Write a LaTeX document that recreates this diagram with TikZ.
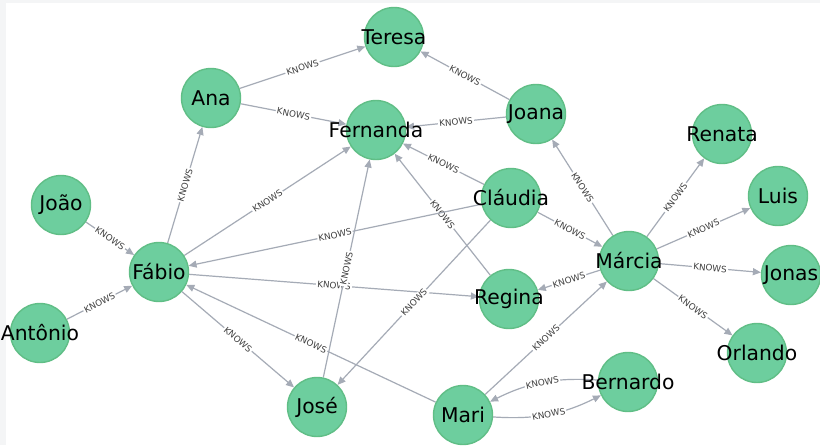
\documentclass[tikz,border=0pt]{standalone}
\usepackage{fontspec}
\setmainfont{DejaVu Sans}
\usetikzlibrary{arrows.meta}
\definecolor{nodefill}{HTML}{6DCE9E}
\definecolor{nodeline}{HTML}{60BE86}
\definecolor{relline}{HTML}{A5ABB6}
\definecolor{framegray}{HTML}{F4F5F6}
\pgfdeclarelayer{bg}
\pgfdeclarelayer{edges}
\pgfsetlayers{bg,edges,main}
\tikzset{
  person/.style={circle, minimum size=59pt, inner sep=0pt, fill=nodefill,
    draw=nodeline, line width=1.4pt, font=\fontsize{20.3}{24}\selectfont, text=black},
  rel/.style={draw=relline, line width=1.2pt,
    -{Triangle[length=8pt,width=7pt]}},
  lbl/.style={midway, sloped, fill=white, inner sep=1.2pt, text=black!75,
    font=\fontsize{8.8}{9}\selectfont}
}
\newcommand{\pname}[1]{\makebox[0pt][c]{#1}}
\begin{document}
\begin{tikzpicture}[x=1pt, y=-1pt]
\begin{pgfonlayer}{bg}
  \fill[framegray] (0,0) rectangle (820,445);
  \fill[white] (6,3) rectangle (820,445);
\end{pgfonlayer}
\useasboundingbox (0,0) rectangle (820,445);

% people
\node[person] (teresa)   at (394,37)  {\pname{Teresa}};
\node[person] (ana)      at (211,98)  {\pname{Ana}};
\node[person] (fernanda) at (376,130) {\pname{Fernanda}};
\node[person] (joana)    at (536,114) {\pname{Joana}};
\node[person] (renata)   at (722,134) {\pname{Renata}};
\node[person] (joao)     at (61,205)  {\pname{João}};
\node[person] (fabio)    at (159,272) {\pname{Fábio}};
\node[person] (claudia)  at (511,198) {\pname{Cláudia}};
\node[person] (marcia)   at (629,261) {\pname{Márcia}};
\node[person] (luis)     at (778,196) {\pname{Luis}};
\node[person] (jonas)    at (791,275) {\pname{Jonas}};
\node[person] (regina)   at (509,299) {\pname{Regina}};
\node[person] (antonio)  at (40,333)  {\pname{Antônio}};
\node[person] (jose)     at (317,407) {\pname{José}};
\node[person] (mari)     at (463,415) {\pname{Mari}};
\node[person] (bernardo) at (628,382) {\pname{Bernardo}};
\node[person] (orlando)  at (757,353) {\pname{Orlando}};

% KNOWS relationships
\begin{pgfonlayer}{edges}
\draw[rel] (ana) -- node[lbl]{KNOWS} (teresa);
\draw[rel] (ana) -- node[lbl]{KNOWS} (fernanda);
\draw[rel] (joana) -- node[lbl]{KNOWS} (teresa);
\draw[rel] (joana) -- node[lbl]{KNOWS} (fernanda);
\draw[rel] (marcia) -- node[lbl]{KNOWS} (joana);
\draw[rel] (claudia) -- node[lbl]{KNOWS} (fernanda);
\draw[rel] (regina) -- node[lbl]{KNOWS} (fernanda);
\draw[rel] (fabio) -- node[lbl]{KNOWS} (fernanda);
\draw[rel] (fabio) -- node[lbl]{KNOWS} (ana);
\draw[rel] (joao) -- node[lbl]{KNOWS} (fabio);
\draw[rel] (antonio) -- node[lbl]{KNOWS} (fabio);
\draw[rel] (claudia) -- node[lbl]{KNOWS} (fabio);
\draw[rel] (fabio) -- node[lbl]{KNOWS} (regina);
\draw[rel] (jose) -- node[lbl]{KNOWS} (fernanda);
\draw[rel] (mari) -- node[lbl]{KNOWS} (fabio);
\draw[rel] (fabio) -- node[lbl]{KNOWS} (jose);
\draw[rel] (claudia) -- node[lbl]{KNOWS} (jose);
\draw[rel] (claudia) -- node[lbl]{KNOWS} (marcia);
\draw[rel] (marcia) -- node[lbl]{KNOWS} (regina);
\draw[rel] (mari) -- node[lbl]{KNOWS} (marcia);
\draw[rel] (marcia) -- node[lbl]{KNOWS} (renata);
\draw[rel] (marcia) -- node[lbl]{KNOWS} (luis);
\draw[rel] (marcia) -- node[lbl]{KNOWS} (jonas);
\draw[rel] (marcia) -- node[lbl]{KNOWS} (orlando);
\draw[rel] (bernardo) to[bend right=15] node[lbl]{KNOWS} (mari);
\draw[rel] (mari) to[bend right=15] node[lbl]{KNOWS} (bernardo);
\end{pgfonlayer}
\end{tikzpicture}
\end{document}
